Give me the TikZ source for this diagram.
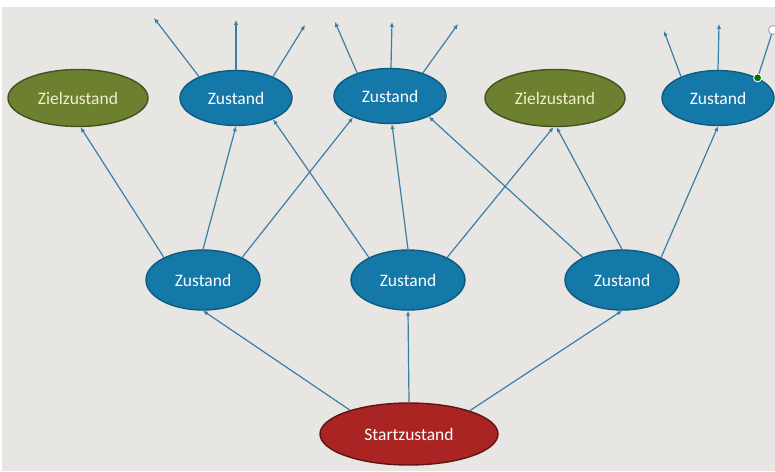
\documentclass[tikz,border=0pt]{standalone}
\usepackage{fontspec}
\setmainfont{Carlito}
\usetikzlibrary{shapes.geometric,arrows.meta}

\definecolor{zblue}{HTML}{1478A8}
\definecolor{zblueline}{HTML}{0E5A80}
\definecolor{zgreen}{HTML}{6C8030}
\definecolor{zgreenline}{HTML}{435220}
\definecolor{zgreentext}{HTML}{F1F0CF}
\definecolor{zred}{HTML}{AA2424}
\definecolor{zredline}{HTML}{5E1414}
\definecolor{zlink}{HTML}{3B7FA5}
\definecolor{zback}{HTML}{E8E6E3}

\begin{document}
\begin{tikzpicture}[x=1pt,y=-1pt,
    zustand/.style={ellipse,draw=zblueline,line width=1.4pt,fill=zblue,text=white,
      inner sep=0pt,minimum width=112pt,minimum height=55pt,font=\fontsize{17.5}{20}\selectfont},
    ziel/.style={zustand,draw=zgreenline,fill=zgreen,text=zgreentext,minimum width=140pt,minimum height=57pt},
    startz/.style={zustand,draw=zredline,fill=zred,minimum width=178pt,minimum height=62pt},
    mitte/.style={zustand,minimum width=114pt,minimum height=60pt},
    link/.style={draw=zlink,line width=1.2pt,-{Latex[length=5pt,width=4.5pt]}}]
\useasboundingbox (0,0) rectangle (775,471);
\fill[white] (0,0) rectangle (775,471);
\fill[zback] (2,7) rectangle (775,471);

% obere Reihe
\node[ziel] (ziel1) at (78,98) {Zielzustand};
\node[zustand] (oben1) at (236,98) {Zustand};
\node[zustand] (oben2) at (390,96) {Zustand};
\node[ziel] (ziel2) at (555,98) {Zielzustand};
\node[zustand] (oben3) at (718,98) {Zustand};

% mittlere Reihe
\node[mitte] (mitte1) at (203,280) {Zustand};
\node[mitte] (mitte2) at (408,280) {Zustand};
\node[mitte] (mitte3) at (622,280) {Zustand};

\node[startz] (start) at (409,434) {Startzustand};

% offene Enden oben
\coordinate (o1a) at (154,18);
\coordinate (o1b) at (236,20);
\coordinate (o1c) at (305,25);
\coordinate (o2a) at (335,22);
\coordinate (o2b) at (392,22);
\coordinate (o2c) at (458,24);
\coordinate (o3a) at (664,31);
\coordinate (o3b) at (719,24);
\coordinate (o3c) at (773,30);

\draw[link] (start.158) -- (mitte1.-90);
\draw[link] (start.90) -- (mitte2.-90);
\draw[link] (start.21) -- (mitte3.-90);

\draw[link] (mitte1.150) -- (ziel1.-85);
\draw[link] (mitte1.90) -- (oben1.-90);
\draw[link] (mitte1.30) -- (oben2.-150);
\draw[link] (mitte2.150) -- (oben1.-30);
\draw[link] (mitte2.90) -- (oben2.-86);
\draw[link] (mitte2.30) -- (ziel2.-93);
\draw[link] (mitte3.150) -- (oben2.-28);
\draw[link] (mitte3.90) -- (ziel2.-87);
\draw[link] (mitte3.30) -- (oben3.-90);

\draw[link] (oben1.150) -- (o1a);
\draw[link] (oben1.90) -- (o1b);
\draw[link] (oben1.30) -- (o1c);
\draw[link] (oben2.145) -- (o2a);
\draw[link] (oben2.88) -- (o2b);
\draw[link] (oben2.35) -- (o2c);
\draw[link] (oben3.150) -- (o3a);
\draw[link] (oben3.90) -- (o3b);
\draw[zlink,line width=1.2pt] (oben3.27) -- (o3c);

% Markierung
\draw[gray!70,fill=white,line width=0.9pt] (o3c) circle (4.5pt);
\draw[white,fill=green!45!black,line width=0.9pt] (oben3.27) circle (4pt);
\end{tikzpicture}
\end{document}
